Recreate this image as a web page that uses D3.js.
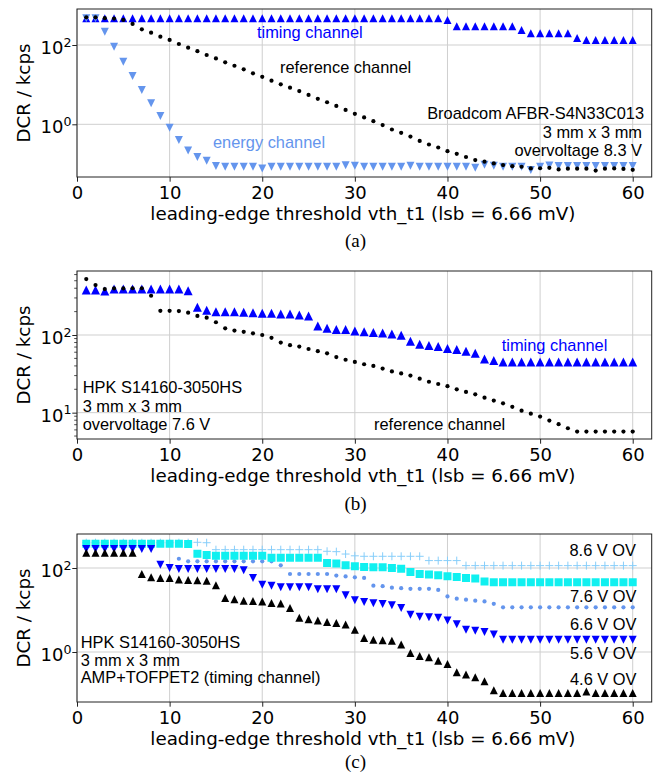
<!DOCTYPE html>
<html>
<head>
<meta charset="utf-8" />
<script src="https://d3js.org/d3.v7.min.js"></script>
<style>
    body { margin: 0; background: #fff; }
    svg { display: block; }
    .tick-label { font-family: "DejaVu Sans", sans-serif; font-size: 18px; fill: #000; }
    .axis-label { font-family: "DejaVu Sans", sans-serif; font-size: 18.3px; fill: #000; }
    .note { font-family: "Liberation Sans", Arial, sans-serif; font-size: 16.4px; }
    .caption { font-family: "Liberation Serif", "Times New Roman", serif; font-size: 19px; }
</style>
</head>
<body>
<script>

    // leading-edge threshold steps
    var vth = [1, 2, 3, 4, 5, 6, 7, 8, 9, 10, 11, 12, 13, 14, 15, 16, 17, 18, 19, 20,
               21, 22, 23, 24, 25, 26, 27, 28, 29, 30, 31, 32, 33, 34, 35, 36, 37, 38, 39, 40,
               41, 42, 43, 44, 45, 46, 47, 48, 49, 50, 51, 52, 53, 54, 55, 56, 57, 58, 59, 60];

    // (a) Broadcom, DCR in kcps
    var timingA = [470, 470, 470, 470, 470, 470, 470, 470, 470, 470,
                   470, 470, 470, 470, 470, 470, 470, 470, 470, 470,
                   470, 470, 470, 470, 470, 470, 470, 470, 470, 470,
                   470, 470, 470, 470, 470, 470, 470, 470, 470, 430,
                   295, 295, 295, 295, 295, 295, 295, 240, 197, 197,
                   197, 197, 197, 150, 134, 134, 134, 134, 134, 134];
    var energyA = [470, 470, 217, 91, 38, 16.6, 7.3, 3.4, 1.61, 0.82,
                   0.40, 0.22, 0.15, 0.12, 0.089, 0.085, 0.085, 0.085, 0.085, 0.077,
                   0.085, 0.085, 0.085, 0.085, 0.085, 0.085, 0.085, 0.085, 0.093, 0.09,
                   0.085, 0.085, 0.085, 0.085, 0.085, 0.09, 0.085, 0.085, 0.085, 0.085,
                   0.085, 0.085, 0.08, 0.095, 0.09, 0.085, 0.085, 0.085, 0.07, 0.085,
                   0.092, 0.089, 0.089, 0.089, 0.089, 0.089, 0.089, 0.089, 0.089, 0.089];
    var referenceA = [500, 500, 475, 465, 428, 340, 249, 205, 162, 134,
                      106, 85.5, 70, 56, 46, 36.5, 30, 24.3, 19.3, 15.8,
                      12.6, 10.2, 8.4, 6.9, 5.5, 4.4, 3.6, 2.9, 2.3, 1.84,
                      1.49, 1.2, 0.955, 0.74, 0.61, 0.49, 0.38, 0.31, 0.26, 0.21,
                      0.18, 0.15, 0.125, 0.114, 0.103, 0.094, 0.088, 0.085, 0.077, 0.078,
                      0.08, 0.073, 0.076, 0.076, 0.076, 0.068, 0.076, 0.077, 0.075, 0.071];

    // (b) HPK at 7.6 V overvoltage
    var timingB = [380, 380, 368, 390, 390, 391, 391, 392, 392, 392,
                   392, 372, 227, 208, 199, 199, 199, 196, 194, 190,
                   190, 186, 186, 181, 176, 131, 122, 118, 118, 113,
                   110, 108, 106, 103, 99, 83, 76, 73, 71, 67,
                   65, 62, 58, 49, 47, 45, 45, 45, 45, 45,
                   45, 45, 45, 45, 45, 45, 45, 45, 45, 45];
    var referenceB = [525, 440, 390, 398, 398, 400, 400, 320, 205, 205,
                      203, 194, 176, 167, 146, 122, 114, 110, 105, 100,
                      92, 80, 74, 71, 66, 62, 58, 52, 48, 45,
                      42, 40, 37, 34, 32, 30, 27.4, 25, 23.4, 21.9,
                      20, 18.5, 17.2, 15.6, 14.3, 13.2, 11.9, 10.6, 9.7, 8.9,
                      7.9, 7.1, 6.3, 5.7, 5.7, 5.7, 5.7, 5.7, 5.7, 5.7];

    // (c) HPK timing channel at several overvoltages
    var ov86 = [400, 400, 400, 400, 400, 400, 400, 400, 400, 400,
                400, 400, 409, 400, 273, 273, 273, 273, 273, 273,
                273, 273, 273, 273, 273, 273, 250, 245, 215, 195,
                190, 190, 190, 190, 190, 190, 190, 150, 150, 150,
                150, 114, 114, 114, 114, 114, 114, 114, 114, 114,
                114, 114, 114, 114, 114, 114, 114, 114, 114, 114];
    var ov76 = [380, 380, 380, 380, 380, 380, 380, 380, 380, 380,
                380, 375, 219, 205, 196, 196, 196, 196, 196, 196,
                175, 175, 175, 175, 175, 175, 131, 128, 116, 110,
                106, 104, 104, 100, 96, 80, 72, 70, 67, 64,
                61, 58, 56, 48, 46, 46, 46, 46, 46, 46,
                46, 46, 46, 46, 46, 46, 46, 46, 46, 46];
    var ov66 = [370, 370, 370, 370, 370, 370, 370, 370, 370, 370,
                166, 144, 144, 144, 144, 144, 144, 144, 144, 144,
                144, 116, 72, 72, 72, 72, 72, 66, 63, 60,
                58, 38, 37, 34, 33, 32, 32, 32, 30, 21,
                18.6, 17.6, 16.7, 16, 14, 11.6, 11.6, 11.6, 11.6, 11.6,
                11.6, 11.6, 11.6, 11.6, 11.6, 11.6, 11.6, 11.6, 11.6, 11.6];
    var ov56 = [285, 285, 285, 285, 285, 285, 283, 283, 120, 100,
                95, 95, 95, 95, 95, 95, 95, 88, 58, 40,
                38, 35, 35, 35, 35, 31, 31, 31, 22.4, 17,
                15.5, 14.5, 13.9, 13, 11.2, 7.7, 6.9, 6.7, 6.5, 5.6,
                4.6, 3.4, 3.2, 3.0, 2.6, 1.97, 1.97, 1.97, 1.97, 1.97,
                1.97, 1.97, 1.97, 1.97, 1.97, 1.97, 1.97, 1.97, 1.97, 1.97];
    var ov46 = [230, 230, 230, 230, 230, 230, 72, 60, 58, 58,
                53, 52, 51, 50, 39, 19.3, 18, 16.7, 16.3, 16,
                14.7, 14.2, 11.2, 6.5, 6.0, 5.6, 5.2, 4.9, 4.5, 3.4,
                2.15, 1.95, 1.9, 1.85, 1.5, 0.95, 0.8, 0.75, 0.62, 0.52,
                0.33, 0.29, 0.25, 0.2, 0.122, 0.106, 0.106, 0.106, 0.106, 0.106,
                0.106, 0.106, 0.106, 0.106, 0.115, 0.106, 0.106, 0.106, 0.106, 0.106];

    var xTicks = [0, 10, 20, 30, 40, 50, 60];
    var xLabel = "leading-edge threshold vth_t1 (lsb = 6.66 mV)";
    var yLabel = "DCR / kcps";

    var width = 659, height = 779;
    var axLeft = 77, axRight = 651.7;
    var gridColor = "#cfcfcf";

    var svg = d3.select("body").append("svg")
        .attr("width", width)
        .attr("height", height);

    svg.append("rect").attr("width", width).attr("height", height).attr("fill", "#fff");

    // marker shapes (pixel sizes, not data)
    function upTri(s) { return "M0," + (-s / 2) + "L" + (s / 2) + "," + (s / 2) + "L" + (-s / 2) + "," + (s / 2) + "Z"; }
    function downTri(s) { return "M0," + (s / 2) + "L" + (s / 2) + "," + (-s / 2) + "L" + (-s / 2) + "," + (-s / 2) + "Z"; }
    function square(s) { return "M" + (-s / 2) + "," + (-s / 2) + "h" + s + "v" + s + "h" + (-s) + "Z"; }
    function plus(s) { return "M" + (-s / 2) + ",0h" + s + "M0," + (-s / 2) + "v" + s; }

    var panelCount = 0;

    function panel(cfg) {
        var id = panelCount++;
        var g = svg.append("g");
        var x = d3.scaleLinear().domain([0, 62.05]).range([axLeft, axRight]);
        var y = d3.scaleLog().domain(cfg.yDomain).range([cfg.bottom, cfg.top]);

        g.append("clipPath").attr("id", "clip" + id)
            .append("rect")
            .attr("x", axLeft).attr("y", cfg.top)
            .attr("width", axRight - axLeft).attr("height", cfg.bottom - cfg.top);

        // grid
        g.append("g").selectAll("line").data(xTicks).join("line")
            .attr("x1", function (d) { return x(d); })
            .attr("x2", function (d) { return x(d); })
            .attr("y1", cfg.top).attr("y2", cfg.bottom)
            .attr("stroke", gridColor).attr("stroke-width", 1);
        g.append("g").selectAll("line").data(cfg.yTicks).join("line")
            .attr("x1", axLeft).attr("x2", axRight)
            .attr("y1", function (d) { return y(d); })
            .attr("y2", function (d) { return y(d); })
            .attr("stroke", gridColor).attr("stroke-width", 1);

        // data
        var plot = g.append("g").attr("clip-path", "url(#clip" + id + ")");
        cfg.series.forEach(function (s) {
            var pts = vth.map(function (t, i) { return { t: t, v: s.values[i] }; });
            var sel = plot.append("g").selectAll("path").data(pts).join("path")
                .attr("transform", function (d) { return "translate(" + x(d.t) + "," + y(d.v) + ")"; });
            if (s.shape === "dot") {
                sel.attr("d", d3.symbol().type(d3.symbolCircle).size(Math.PI * s.size * s.size / 4))
                    .attr("fill", s.color);
            } else if (s.shape === "plus") {
                sel.attr("d", plus(s.size)).attr("fill", "none")
                    .attr("stroke", s.color).attr("stroke-width", 1);
            } else {
                var fn = s.shape === "up" ? upTri : s.shape === "down" ? downTri : square;
                sel.attr("d", fn(s.size)).attr("fill", s.color);
            }
        });

        // frame
        g.append("rect")
            .attr("x", axLeft).attr("y", cfg.top)
            .attr("width", axRight - axLeft).attr("height", cfg.bottom - cfg.top)
            .attr("fill", "none").attr("stroke", "#222").attr("stroke-width", 1);

        // x axis
        var xa = g.append("g")
            .attr("transform", "translate(0," + cfg.bottom + ")")
            .call(d3.axisBottom(x).tickValues(xTicks).tickSize(4.7).tickPadding(5));
        xa.select(".domain").remove();
        xa.selectAll(".tick line").attr("stroke", "#222");
        xa.selectAll(".tick text").attr("class", "tick-label").attr("font-size", null).attr("font-family", null);
        xa.attr("font-size", null).attr("font-family", null);

        // y axis, major ticks with 10^n labels
        var ya = g.append("g")
            .attr("transform", "translate(" + axLeft + ",0)")
            .call(d3.axisLeft(y).tickValues(cfg.yTicks).tickSize(4.7).tickFormat(""));
        ya.select(".domain").remove();
        ya.selectAll(".tick line").attr("stroke", "#222");
        cfg.yTicks.forEach(function (v) {
            var t = g.append("text").attr("class", "tick-label")
                .attr("x", axLeft - 5.5).attr("y", y(v) + 9)
                .attr("text-anchor", "end");
            t.append("tspan").text("10");
            t.append("tspan").attr("dy", -7.5).attr("font-size", "12.6px")
                .text(Math.round(Math.log10(v)));
        });

        if (cfg.minor) {
            g.append("g").selectAll("line").data(cfg.minor).join("line")
                .attr("x1", axLeft - 2.8).attr("x2", axLeft)
                .attr("y1", function (d) { return y(d); })
                .attr("y2", function (d) { return y(d); })
                .attr("stroke", "#222").attr("stroke-width", 0.8);
        }

        g.append("text").attr("class", "axis-label")
            .attr("x", (axLeft + axRight) / 2 - 1.5).attr("y", cfg.bottom + 43)
            .attr("text-anchor", "middle").text(xLabel);

        g.append("text").attr("class", "axis-label")
            .attr("transform", "translate(30," + (cfg.top + cfg.bottom) / 2 + ") rotate(-90)")
            .attr("text-anchor", "middle").text(yLabel);

        g.append("text").attr("class", "caption")
            .attr("x", 355.5).attr("y", cfg.captionY)
            .attr("text-anchor", "middle").text(cfg.caption);

        cfg.notes.forEach(function (n) {
            g.append("text").attr("class", "note")
                .attr("x", n.x).attr("y", n.y)
                .attr("text-anchor", n.anchor || "start")
                .attr("fill", n.color || "#000")
                .text(n.text);
        });
        return g;
    }

    panel({
        top: 9, bottom: 177, yDomain: [0.0469, 809], yTicks: [1, 100],
        caption: "(a)", captionY: 247,
        series: [
            { values: timingA, shape: "up", size: 8, color: "#0000ff" },
            { values: energyA, shape: "down", size: 8, color: "#6495ed" },
            { values: referenceA, shape: "dot", size: 4.2, color: "#000" }
        ],
        notes: [
            { text: "timing channel", x: 257, y: 37.5, color: "#0000ff" },
            { text: "reference channel", x: 280, y: 72.7 },
            { text: "energy channel", x: 213, y: 147.5, color: "#6495ed" },
            { text: "Broadcom AFBR-S4N33C013", x: 644, y: 119, anchor: "end" },
            { text: "3 mm x 3 mm", x: 642, y: 137.5, anchor: "end" },
            { text: "overvoltage 8.3 V", x: 642, y: 155.5, anchor: "end" }
        ]
    });

    panel({
        top: 271, bottom: 439, yDomain: [4.58, 667], yTicks: [10, 100],
        minor: [5, 6, 7, 8, 9, 20, 30, 40, 50, 60, 70, 80, 90, 200, 300, 400, 500, 600],
        caption: "(b)", captionY: 510,
        series: [
            { values: timingB, shape: "up", size: 9, color: "#0000ff" },
            { values: referenceB, shape: "dot", size: 4.2, color: "#000" }
        ],
        notes: [
            { text: "timing channel", x: 501.7, y: 351, color: "#0000ff" },
            { text: "reference channel", x: 374, y: 430 },
            { text: "HPK S14160-3050HS", x: 82.7, y: 393.3 },
            { text: "3 mm x 3 mm", x: 82.7, y: 411.7 },
            { text: "overvoltage 7.6 V", x: 82.7, y: 430 }
        ]
    });

    panel({
        top: 534, bottom: 702, yDomain: [0.0645, 645], yTicks: [1, 100],
        caption: "(c)", captionY: 768,
        series: [
            { values: ov66, shape: "dot", size: 4.2, color: "#6495ed" },
            { values: ov86, shape: "plus", size: 8, color: "#87cefa" },
            { values: ov76, shape: "square", size: 8, color: "#10f0f0" },
            { values: ov56, shape: "down", size: 8, color: "#0000ff" },
            { values: ov46, shape: "up", size: 8, color: "#000" }
        ],
        notes: [
            { text: "8.6 V OV", x: 636, y: 556.3, anchor: "end" },
            { text: "7.6 V OV", x: 636.5, y: 602, anchor: "end" },
            { text: "6.6 V OV", x: 636.5, y: 630.3, anchor: "end" },
            { text: "5.6 V OV", x: 636.5, y: 659, anchor: "end" },
            { text: "4.6 V OV", x: 636.5, y: 685.3, anchor: "end" },
            { text: "HPK S14160-3050HS", x: 80.7, y: 648 },
            { text: "3 mm x 3 mm", x: 80.7, y: 666.3 },
            { text: "AMP+TOFPET2 (timing channel)", x: 80.7, y: 683 }
        ]
    });

</script>
</body>
</html>
